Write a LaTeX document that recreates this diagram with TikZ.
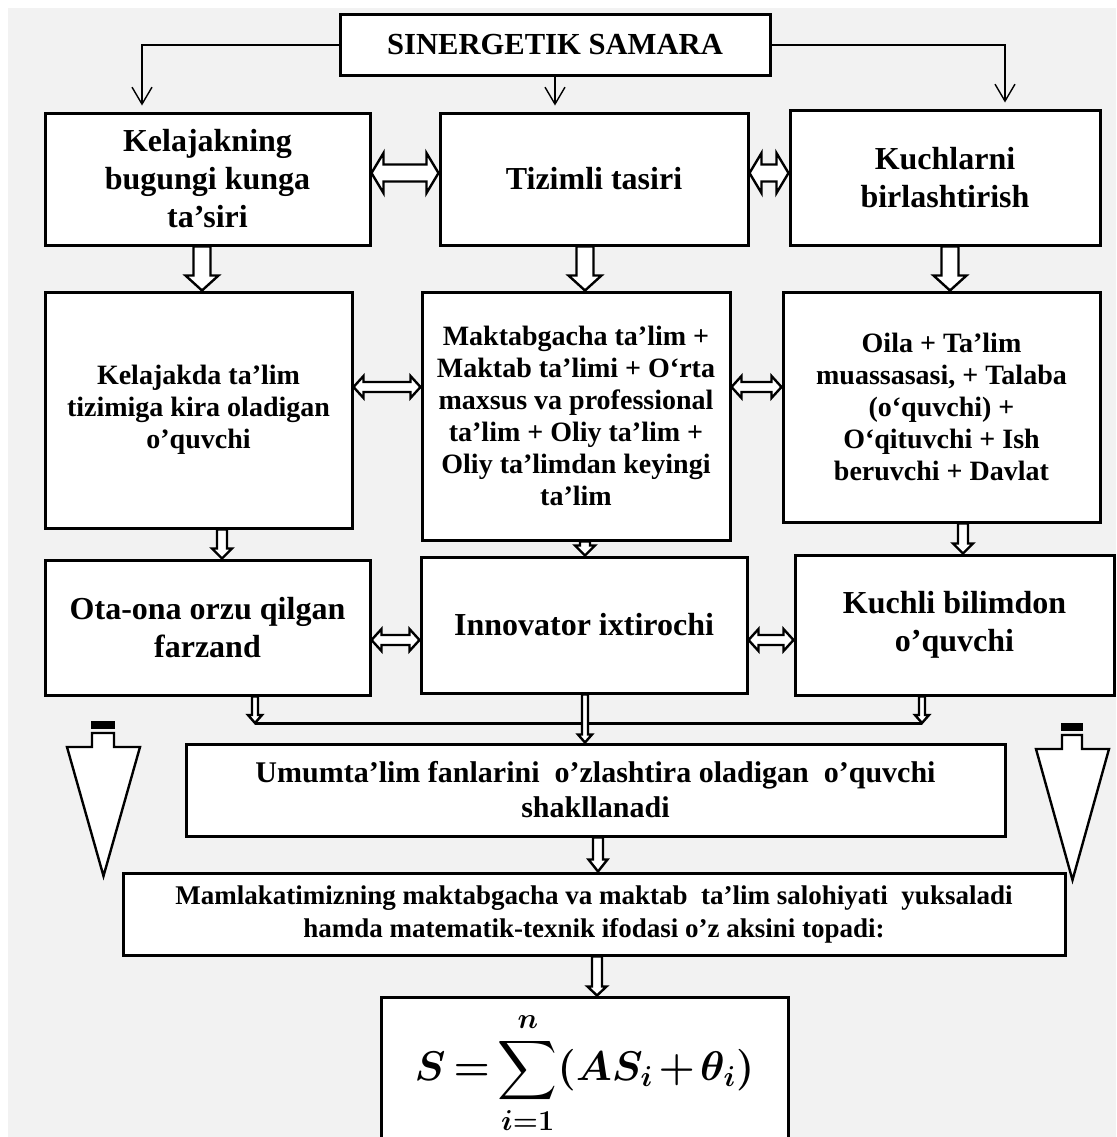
\documentclass[tikz,border=0pt]{standalone}
\usepackage{fontspec}
\setmainfont{Liberation Serif}
\usepackage{amsmath}
\usetikzlibrary{calc,arrows.meta}
\definecolor{bggray}{HTML}{F2F2F2}

\tikzset{
	box/.style={draw, line width=1.5pt, fill=white, align=center, inner sep=0pt},
	wh/.style 2 args={minimum width={#1*0.5pt}, minimum height={#2*0.5pt}},
	ttl/.style={font=\fontsize{15.3}{18}\selectfont\bfseries},
	big/.style={font=\fontsize{16}{19}\selectfont\bfseries},
	mid/.style={font=\fontsize{14}{16}\selectfont\bfseries},
	umm/.style={font=\fontsize{15}{17.5}\selectfont\bfseries},
	mam/.style={font=\fontsize{13.5}{16.5}\selectfont\bfseries},
	conn/.style={line width=0.7pt, -{Straight Barb[length=8.5pt,width=10pt]}, shorten >=3pt},
	blk/.style={line width=1.2pt, fill=white, line join=miter},
}

\newsavebox{\frmbox}

% down block arrow: x, upper anchor, lower anchor, half shaft, half head, head length
\newcommand{\vblk}[6]{\draw[blk] let \p1=(#1,0 |- #2), \p2=(#1,0 |- #3) in
	(\x1-#4,\y1) -- (\x1-#4,\y2+#6) -- (\x1-#5,\y2+#6) -- (\x1,\y2) -- (\x1+#5,\y2+#6) -- (\x1+#4,\y2+#6) -- (\x1+#4,\y1) -- cycle;}
% two-way block arrow: y, left anchor, right anchor, half shaft, half head, head length
\newcommand{\hblk}[6]{\draw[blk] let \p1=(#2 |- 0,#1), \p2=(#3 |- 0,#1) in
	(\x1,\y1) -- (\x1+#6,\y1+#5) -- (\x1+#6,\y1+#4) -- (\x2-#6,\y1+#4) -- (\x2-#6,\y1+#5) -- (\x2,\y1)
	-- (\x2-#6,\y1-#5) -- (\x2-#6,\y1-#4) -- (\x1+#6,\y1-#4) -- (\x1+#6,\y1-#5) -- cycle;}

\begin{document}
\sbox{\frmbox}{\fontsize{20}{24}\selectfont\boldmath\thickmuskip=3mu\medmuskip=2mu$\displaystyle S=\sum_{i=1}^{n}(AS_i+\theta_i)$}
\begin{tikzpicture}[x=0.5pt, y=-0.5pt]
	\fill[bggray] (8,8) rectangle (1116,1137);
	\useasboundingbox (0,0) rectangle (1116,1137);

	\node[box, ttl, wh={430}{61}] (title) at (555,45) {SINERGETIK SAMARA};

	\node[box, big, wh={325}{132}] (kelajak) at (207.5,179) {Kelajakning\\bugungi kunga\\ta’siri};
	\node[box, big, wh={308}{132}] (tizim) at (594,179) {Tizimli tasiri};
	\node[box, big, wh={310}{135}] (kuch) at (945,177.5) {Kuchlarni\\birlashtirish};

	\node[box, mid, wh={307}{236}] (oquvchi) at (198.5,410) {Kelajakda ta’lim\\tizimiga kira oladigan\\o’quvchi};
	\node[box, mid, wh={308}{248}] (talim) at (576,416) {Maktabgacha ta’lim +\\Maktab ta’limi + O‘rta\\maxsus va professional\\ta’lim + Oliy ta’lim +\\Oliy ta’limdan keyingi\\ta’lim};
	\node[box, mid, wh={317}{230}] (oila) at (941.5,407) {Oila + Ta’lim\\muassasasi, + Talaba\\(o‘quvchi) +\\O‘qituvchi + Ish\\beruvchi + Davlat};

	\node[box, big, wh={325}{135}] (farzand) at (207.5,627.5) {Ota-ona orzu qilgan\\farzand};
	\node[box, big, wh={326}{136}] (innov) at (584,625) {Innovator ixtirochi};
	\node[box, big, wh={319}{140}] (bilim) at (954.5,625) {Kuchli bilimdon\\o’quvchi};

	\node[box, umm, wh={819}{92}] (umum) at (595.5,790) {Umumta’lim fanlarini\ \ o’zlashtira oladigan\ \ o’quvchi\\shakllanadi};
	\node[box, mam, wh={942}{82}] (salo) at (594,914) {Mamlakatimizning maktabgacha va maktab\ \ ta’lim salohiyati\ \ yuksaladi\\hamda matematik-texnik ifodasi o’z aksini topadi:};
	\node[box, wh={407}{152}] (formula) at (584.5,1073) {\usebox{\frmbox}};

	\draw[conn] (title.west) -| ([xshift=-32.75pt]kelajak.north);
	\draw[conn] (title.south) -- (title.south |- tizim.north);
	\draw[conn] (title.east) -| ([xshift=30pt]kuch.north);

	\hblk{173}{kelajak.east}{tizim.west}{4.25pt}{10pt}{6pt}
	\hblk{173}{tizim.east}{kuch.west}{4.25pt}{10pt}{6pt}
	\vblk{202}{kelajak.south}{oquvchi.north}{4.25pt}{8.25pt}{7.5pt}
	\vblk{585}{tizim.south}{talim.north}{4.25pt}{8.25pt}{7.5pt}
	\vblk{950}{kuch.south}{oila.north}{4.25pt}{8.25pt}{7.5pt}

	\hblk{387}{oquvchi.east}{talim.west}{2.5pt}{5.5pt}{5pt}
	\hblk{387}{talim.east}{oila.west}{2.5pt}{5.5pt}{5pt}
	\vblk{222}{oquvchi.south}{farzand.north}{2.5pt}{5pt}{5pt}
	\vblk{585}{talim.south}{innov.north}{2.5pt}{5pt}{5pt}
	\vblk{963}{oila.south}{bilim.north}{2.5pt}{5pt}{5pt}

	\hblk{640}{farzand.east}{innov.west}{2.5pt}{5.5pt}{5pt}
	\hblk{640}{innov.east}{bilim.west}{2.5pt}{5.5pt}{5pt}

	\coordinate (jl) at (255,723);
	\coordinate (jr) at (922,723);
	\draw[line width=1.5pt] (jl) -- (jr);
	\vblk{255}{farzand.south}{jl}{1.5pt}{3.5pt}{4pt}
	\vblk{922}{bilim.south}{jr}{1.5pt}{3.5pt}{4pt}
	\vblk{585}{innov.south}{umum.north}{1.5pt}{3.5pt}{4pt}

	\vblk{598}{umum.south}{salo.north}{2.5pt}{4.75pt}{6pt}
	\vblk{597}{salo.south}{formula.north}{2.5pt}{4.75pt}{4.5pt}

	\draw[blk] (92,733) -- (92,747) -- (67,747) -- (103.5,876) -- (140,747) -- (114,747) -- (114,733) -- cycle;
	\fill (91,721) rectangle (115,728.5);
	\draw[blk] (1062,735) -- (1062,749) -- (1036,749) -- (1072.5,880) -- (1109,749) -- (1082,749) -- (1082,735) -- cycle;
	\fill (1061,723) rectangle (1083,730.5);
\end{tikzpicture}
\end{document}
